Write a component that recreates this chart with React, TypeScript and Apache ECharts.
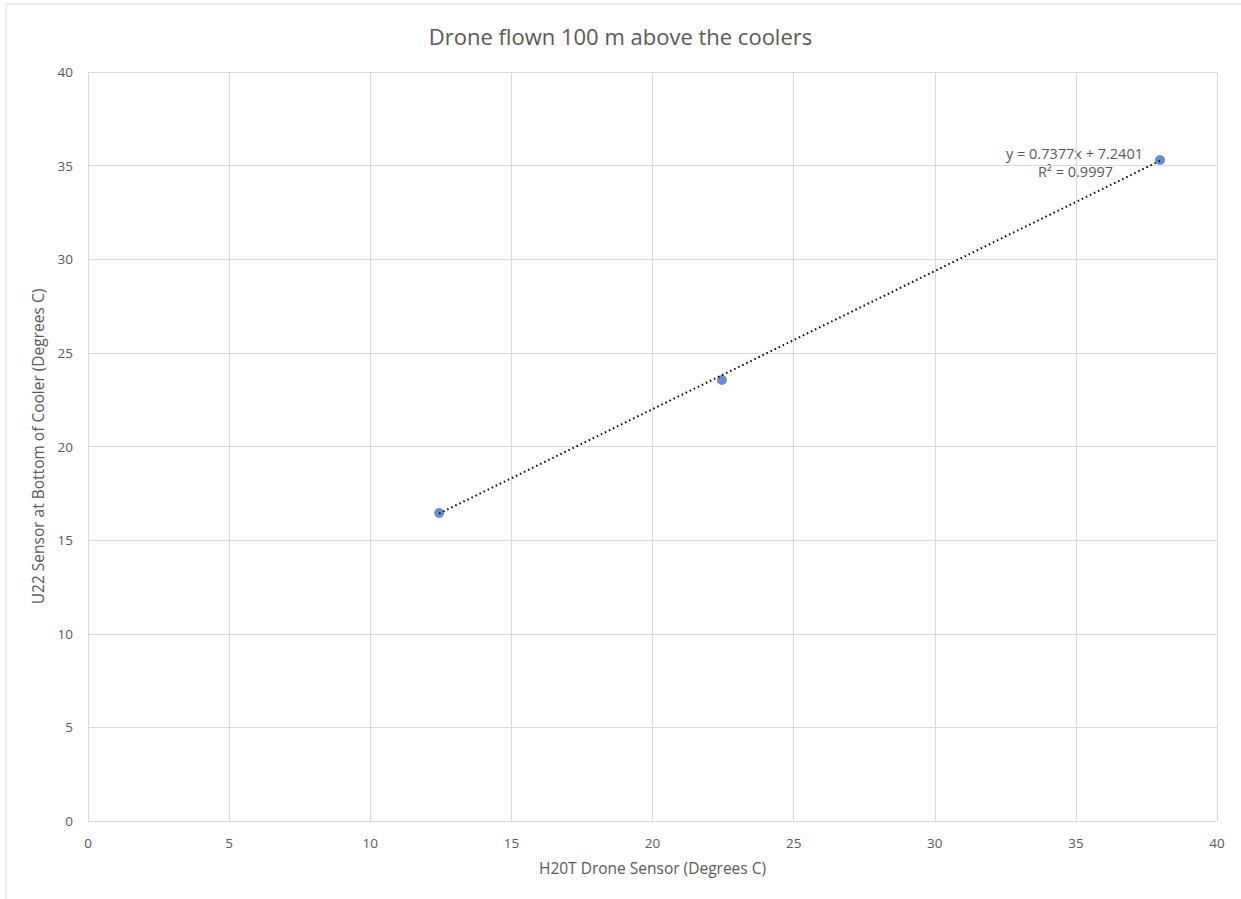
import React, { useEffect, useRef } from "react";
import * as echarts from "echarts";

const title = "Drone flown 100 m above the coolers";
const xName = "H20T Drone Sensor (Degrees C)";
const yName = "U22 Sensor at Bottom of Cooler (Degrees C)";
const droneX = [12.44, 22.46, 37.98];
const sensorY = [16.45, 23.55, 35.3];
const slope = 0.7377;
const intercept = 7.2401;
const r2 = 0.9997;

export default function App() {
  const ref = useRef<HTMLDivElement>(null);
  useEffect(() => {
    document.body.style.margin = "0";
    const chart = echarts.init(ref.current!, null, { renderer: "svg" });
    const pts = droneX.map((x, i) => [x, sensorY[i]]);
    const xMin = Math.min(...droneX);
    const xMax = Math.max(...droneX);
    const trend = [
      [xMin, slope * xMin + intercept],
      [xMax, slope * xMax + intercept],
    ];
    const font = "'Open Sans', 'Liberation Sans', sans-serif";
    chart.setOption({
      animation: false,
      backgroundColor: "#ffffff",
      textStyle: { fontFamily: font },
      title: {
        text: title,
        left: "center",
        top: 20,
        textStyle: { fontSize: 22, fontWeight: "normal", color: "#595959", fontFamily: font },
      },
      grid: { left: 88, right: 24, top: 72, bottom: 78, containLabel: false },
      xAxis: {
        type: "value",
        min: 0,
        max: 40,
        interval: 5,
        name: xName,
        nameLocation: "middle",
        nameGap: 39,
        nameTextStyle: { fontSize: 15.5, color: "#595959" },
        axisLine: { show: true, lineStyle: { color: "#d9d9d9" } },
        axisTick: { show: false },
        axisLabel: { color: "#595959", fontSize: 13.5, margin: 15 },
        splitLine: { show: true, lineStyle: { color: "#d9d9d9" } },
      },
      yAxis: {
        type: "value",
        min: 0,
        max: 40,
        interval: 5,
        name: yName,
        nameLocation: "middle",
        nameGap: 42,
        nameTextStyle: { fontSize: 15.5, color: "#595959" },
        axisLine: { show: true, lineStyle: { color: "#d9d9d9" } },
        axisTick: { show: false },
        axisLabel: { color: "#595959", fontSize: 13.5, margin: 15 },
        splitLine: { show: true, lineStyle: { color: "#d9d9d9" } },
      },
      series: [
        {
          type: "line",
          data: trend,
          symbol: "none",
          lineStyle: { color: "#000000", width: 2, type: [1.5, 3] },
          z: 3,
        },
        {
          type: "scatter",
          data: pts,
          symbolSize: 10,
          itemStyle: { color: "#4472C4" },
          z: 2,
        },
      ],
      graphic: [
        {
          type: "rect",
          shape: { x: 6, y: 4, width: 1250, height: 900 },
          style: { fill: "none", stroke: "#d9d9d9", lineWidth: 1 },
          silent: true,
        },
        {
          type: "text",
          x: 1143,
          y: 153,
          style: {
            text: `y = ${slope}x + ${intercept}`,
            fill: "#595959",
            fontSize: 14.5,
            fontFamily: font,
            align: "right",
            verticalAlign: "middle",
          },
        },
        {
          type: "text",
          x: 1113,
          y: 171,
          style: {
            text: `R² = ${r2}`,
            fill: "#595959",
            fontSize: 14.5,
            fontFamily: font,
            align: "right",
            verticalAlign: "middle",
          },
        },
      ],
    });
    return () => chart.dispose();
  }, []);
  return <div ref={ref} style={{ position: "fixed", left: 0, top: 0, width: 1241, height: 899 }} />;
}
